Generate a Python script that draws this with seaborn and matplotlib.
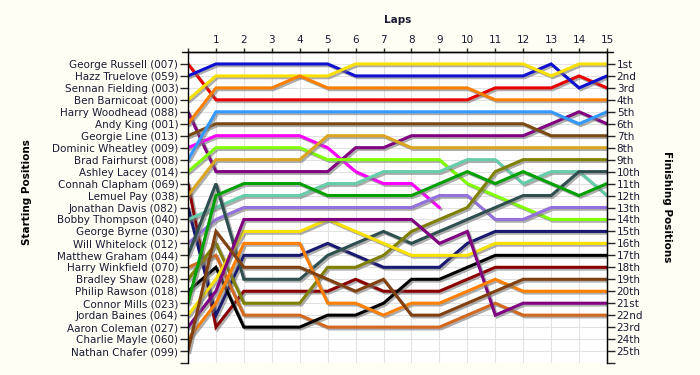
import pandas as pd
import seaborn as sns
import matplotlib.pyplot as plt
import matplotlib.patheffects as pe

# Starting grid order (position 1..25)
drivers = [
    'George Russell (007)', 'Hazz Truelove (059)', 'Sennan Fielding (003)',
    'Ben Barnicoat (000)', 'Harry Woodhead (088)', 'Andy King (001)',
    'Georgie Line (013)', 'Dominic Wheatley (009)', 'Brad Fairhurst (008)',
    'Ashley Lacey (014)', 'Connah Clapham (069)', 'Lemuel Pay (038)',
    'Jonathan Davis (082)', 'Bobby Thompson (040)', 'George Byrne (030)',
    'Will Whitelock (012)', 'Matthew Graham (044)', 'Harry Winkfield (070)',
    'Bradley Shaw (028)', 'Philip Rawson (018)', 'Connor Mills (023)',
    'Jordan Baines (064)', 'Aaron Coleman (027)', 'Charlie Mayle (060)',
    'Nathan Chafer (099)',
]
finish_labels = ['1st', '2nd', '3rd'] + [f'{i}th' for i in range(4, 21)] + \
    ['21st', '22nd', '23rd', '24th', '25th']
lap_labels = [''] + [str(i) for i in range(1, 16)]

# position at end of each lap (lap 0 = grid)
russell = [1, 4, 4, 4, 4, 4, 4, 4, 4, 4, 4, 3, 3, 3, 2, 3]
truelove = [2, 1, 1, 1, 1, 1, 2, 2, 2, 2, 2, 2, 2, 1, 3, 2]
barnicoat = [4, 2, 2, 2, 2, 2, 1, 1, 1, 1, 1, 1, 1, 2, 1, 1]
woodhead = [5, 10, 10, 10, 10, 10, 8, 8, 7, 7, 7, 7, 7, 6, 5, 6]
king = [6, 3, 3, 3, 2, 3, 3, 3, 3, 3, 3, 4, 4, 4, 4, 4]
line_ = [7, 6, 6, 6, 6, 6, 6, 6, 6, 6, 6, 6, 6, 7, 7, 7]
wheatley = [8, 7, 7, 7, 7, 8, 10, 11, 11, 13]
fairhurst = [9, 5, 5, 5, 5, 5, 5, 5, 5, 5, 5, 5, 5, 5, 6, 5]
lacey = [10, 8, 8, 8, 8, 9, 9, 9, 9, 9, 11, 12, 13, 14, 14, 14]
clapham = [11, 23, 20, 20, 20, 20, 19, 20, 20, 20, 19, 18, 18, 18, 18, 18]
pay = [12, 9, 9, 9, 9, 7, 7, 7, 8, 8, 8, 8, 8, 8, 8, 8]
davis = [13, 22, 17, 17, 17, 16, 17, 18, 18, 18, 16, 15, 15, 15, 15, 15]
thompson = [14, 13, 12, 12, 12, 11, 11, 10, 10, 10, 9, 9, 11, 10, 10, 12]
whitelock = [16, 14, 13, 13, 13, 13, 13, 13, 13, 12, 12, 14, 14, 13, 13, 13]
graham = [17, 11, 19, 19, 19, 17, 16, 15, 16, 15, 14, 13, 12, 12, 10, 10]
winkfield = [18, 17, 22, 22, 22, 23, 23, 23, 23, 23, 22, 21, 22, 22, 22, 22]
shaw = [19, 16, 21, 21, 21, 18, 18, 17, 15, 14, 13, 10, 9, 9, 9, 9]
rawson = [20, 18, 23, 23, 23, 22, 22, 21, 19, 19, 18, 17, 17, 17, 17, 17]
mills = [21, 12, 11, 11, 11, 12, 12, 12, 12, 11, 10, 11, 10, 11, 12, 11]
baines = [22, 19, 15, 15, 15, 14, 15, 16, 17, 17, 17, 16, 16, 16, 16, 16]
coleman = [23, 20, 14, 14, 14, 14, 14, 14, 14, 16, 15, 22, 21, 21, 21, 21]
mayle = [24, 21, 16, 16, 16, 21, 21, 22, 21, 21, 20, 19, 20, 20, 20, 20]
chafer = [25, 15, 18, 18, 18, 19, 20, 19, 22, 22, 21, 20, 19, 19, 19, 19]

laps_by_driver = {
    'George Russell (007)': russell, 'Hazz Truelove (059)': truelove,
    'Ben Barnicoat (000)': barnicoat, 'Harry Woodhead (088)': woodhead,
    'Andy King (001)': king, 'Georgie Line (013)': line_,
    'Dominic Wheatley (009)': wheatley, 'Brad Fairhurst (008)': fairhurst,
    'Ashley Lacey (014)': lacey, 'Connah Clapham (069)': clapham,
    'Lemuel Pay (038)': pay, 'Jonathan Davis (082)': davis,
    'Bobby Thompson (040)': thompson, 'Will Whitelock (012)': whitelock,
    'Matthew Graham (044)': graham, 'Harry Winkfield (070)': winkfield,
    'Bradley Shaw (028)': shaw, 'Philip Rawson (018)': rawson,
    'Connor Mills (023)': mills, 'Jordan Baines (064)': baines,
    'Aaron Coleman (027)': coleman, 'Charlie Mayle (060)': mayle,
    'Nathan Chafer (099)': chafer,
}

palette = {
    'George Russell (007)': '#e80000', 'Hazz Truelove (059)': '#1010d0',
    'Ben Barnicoat (000)': '#f8e000', 'Harry Woodhead (088)': '#800080',
    'Andy King (001)': '#ff8000', 'Georgie Line (013)': '#7a4a12',
    'Dominic Wheatley (009)': '#ff00ff', 'Brad Fairhurst (008)': '#3399ff',
    'Ashley Lacey (014)': '#80ff00', 'Connah Clapham (069)': '#8b0000',
    'Lemuel Pay (038)': '#daa520', 'Jonathan Davis (082)': '#191970',
    'Bobby Thompson (040)': '#66cdaa', 'Will Whitelock (012)': '#9370db',
    'Matthew Graham (044)': '#2f4f4f', 'Harry Winkfield (070)': '#d2691e',
    'Bradley Shaw (028)': '#808000', 'Philip Rawson (018)': '#000000',
    'Connor Mills (023)': '#00a000', 'Jordan Baines (064)': '#f8e000',
    'Aaron Coleman (027)': '#800080', 'Charlie Mayle (060)': '#ff8000',
    'Nathan Chafer (099)': '#804010',
}

rows = []
for name, pos in laps_by_driver.items():
    for lap, p in enumerate(pos):
        rows.append({'driver': name, 'lap': lap, 'pos': p})
df = pd.DataFrame(rows)

bg = '#fefef4'
txt = '#1a1a33'
sns.set_style('white')
plt.rcParams['font.family'] = ['DejaVu Sans']

fig = plt.figure(figsize=(7, 3.75), dpi=100, facecolor=bg)
ax = fig.add_axes([188 / 700, 12 / 375, 419 / 700, 311 / 375])
ax.set_facecolor('white')

sns.lineplot(data=df, x='lap', y='pos', hue='driver', palette=palette,
             estimator=None, sort=False, legend=False, linewidth=2.2, ax=ax)
for ln in ax.lines:
    ln.set_path_effects([pe.SimpleLineShadow(offset=(1.3, -1.3), shadow_color='#777777', alpha=0.6),
                         pe.Normal()])
    ln.set_solid_joinstyle('miter')

ax.set_xlim(0, 15)
ax.set_ylim(26, 0)
ax.set_xticks(range(16))
ax.set_xticklabels(lap_labels)
ax.xaxis.tick_top()
ax.xaxis.set_label_position('top')
ax.set_xlabel('Laps', fontsize=7.5, fontweight='bold', labelpad=9, color=txt)
ax.set_ylabel('')
ax.set_yticks(range(1, 27))
ax.set_yticklabels(drivers + [''])
ax.tick_params(axis='x', top=True, direction='out', length=3, width=1, pad=2,
               labelsize=7.5, labelcolor=txt)
ax.tick_params(axis='y', left=True, direction='out', length=6, width=1, pad=1,
               labelsize=7.5, labelcolor=txt)
ax.grid(True, color='#e2e2e2', linewidth=0.8)
ax.set_axisbelow(True)
for s in ['top', 'left', 'right']:
    ax.spines[s].set_color('black')
    ax.spines[s].set_linewidth(1)
ax.spines['bottom'].set_visible(False)
# top spine runs a little past the corners
ax.plot([-0.015, 1.015], [1, 1], transform=ax.transAxes, color='black',
        lw=1, clip_on=False)

axr = ax.twinx()
axr.set_ylim(26, 0)
axr.set_yticks(range(1, 27))
axr.set_yticklabels(finish_labels + [''])
axr.tick_params(axis='y', right=True, direction='out', length=6, width=1, pad=1,
                labelsize=7.5, labelcolor=txt)
axr.spines['bottom'].set_visible(False)
axr.spines['top'].set_visible(False)
axr.spines['left'].set_visible(False)
axr.spines['right'].set_color('black')
axr.grid(False)

fig.text(27 / 700, 1 - 192 / 375, 'Starting Positions', rotation=90,
         ha='center', va='center', fontsize=7.5, fontweight='bold', color='black')
fig.text(667 / 700, 1 - 207 / 375, 'Finishing Positions', rotation=-90,
         ha='center', va='center', fontsize=7.5, fontweight='bold', color='black')

fig.savefig('out.png', dpi=100, facecolor=bg)
